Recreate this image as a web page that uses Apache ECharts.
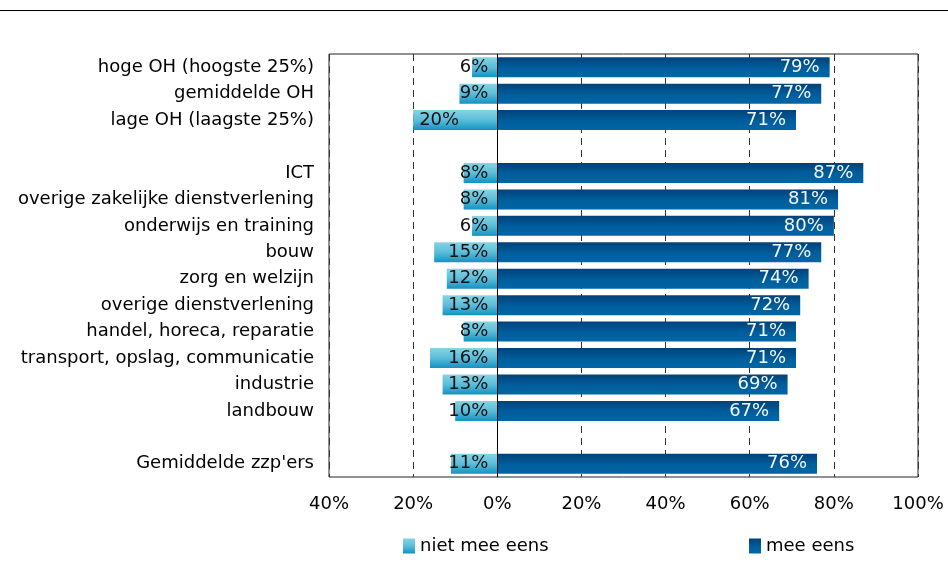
<!DOCTYPE html>
<html>
<head>
<meta charset="utf-8">
<script src="https://cdn.jsdelivr.net/npm/echarts@6/dist/echarts.min.js"></script>
<style>html,body{margin:0;padding:0;background:#fff}#c{width:948px;height:567px}</style>
</head>
<body>
<div id="c"></div>
<script>
const categories = ["hoge OH (hoogste 25%)", "gemiddelde OH", "lage OH (laagste 25%)", " ",
  "ICT", "overige zakelijke dienstverlening", "onderwijs en training", "bouw", "zorg en welzijn",
  "overige dienstverlening", "handel, horeca, reparatie", "transport, opslag, communicatie",
  "industrie", "landbouw", "  ", "Gemiddelde zzp'ers"];
const nietMeeEens = [6, 9, 20, null, 8, 8, 6, 15, 12, 13, 8, 16, 13, 10, null, 11];
const meeEens = [79, 77, 71, null, 87, 81, 80, 77, 74, 72, 71, 71, 69, 67, null, 76];
const xTicks = [-40, -20, 0, 20, 40, 60, 80, 100];

const FONT = 'DejaVu Sans';
const lightGrad = new echarts.graphic.LinearGradient(0, 0, 0, 1, [
  {offset: 0, color: '#86d3e3'}, {offset: 0.5, color: '#5cbdd9'}, {offset: 1, color: '#1292c2'}]);
const darkGrad = new echarts.graphic.LinearGradient(0, 0, 0, 1, [
  {offset: 0, color: '#00427a'}, {offset: 0.55, color: '#005e9c'}, {offset: 1, color: '#0066a6'}]);

const chart = echarts.init(document.getElementById('c'), null, {renderer: 'canvas'});
chart.setOption({
  animation: false,
  backgroundColor: '#fff',
  textStyle: {fontFamily: FONT},
  graphic: [{type: 'line', shape: {x1: 0, y1: 10.5, x2: 948, y2: 10.5}, style: {stroke: '#000', lineWidth: 1}}],
  grid: {left: 329, top: 54, right: 30, bottom: 90, show: true, borderColor: '#222', borderWidth: 1, containLabel: false},
  legend: [
    {data: [{name: 'niet mee eens', icon: 'rect'}], left: 398, top: 532, itemWidth: 12, itemHeight: 15, itemGap: 4,
     textStyle: {fontFamily: FONT, fontSize: 18, color: '#000'}},
    {data: [{name: 'mee eens', icon: 'rect'}], left: 744, top: 532, itemWidth: 12, itemHeight: 15, itemGap: 4,
     textStyle: {fontFamily: FONT, fontSize: 18, color: '#000'}}
  ],
  xAxis: {
    type: 'value', min: xTicks[0], max: xTicks[xTicks.length - 1], interval: 20,
    axisLine: {show: false}, axisTick: {show: false},
    splitLine: {show: true, lineStyle: {color: '#333', type: [7, 5], width: 1}},
    axisLabel: {fontFamily: FONT, fontSize: 18, color: '#000', margin: 18,
      formatter: v => Math.abs(v) + '%'}
  },
  yAxis: {
    type: 'category', data: categories, inverse: true,
    axisLine: {show: false}, axisTick: {show: false},
    axisLabel: {fontFamily: FONT, fontSize: 18, color: '#000', margin: 15}
  },
  series: [
    {
      name: 'niet mee eens', type: 'bar', barWidth: 20, barGap: '-100%',
      data: nietMeeEens.map(v => v == null ? null : -v),
      itemStyle: {color: lightGrad},
      label: {show: true, position: 'insideLeft', distance: 0, fontFamily: FONT, fontSize: 18, color: '#111',
        textBorderWidth: 0, formatter: p => Math.abs(p.value) + '%'},
      labelLayout: function (params) {
        const r = params.rect;
        const lw = params.labelRect.width;
        const right = r.x + r.width;
        let x;
        if (r.width > lw + 30) { x = r.x + 6; } else { x = right - 9 - lw; }
        return {x: x, y: r.y + r.height / 2, align: 'left', verticalAlign: 'middle'};
      }
    },
    {
      name: 'mee eens', type: 'bar', barWidth: 20,
      data: meeEens,
      itemStyle: {color: darkGrad},
      label: {show: true, position: 'insideRight', distance: 10, fontFamily: FONT, fontSize: 18, color: '#f4f8fc',
        textBorderWidth: 0, formatter: p => p.value + '%'},
      markLine: {silent: true, symbol: 'none', label: {show: false},
        lineStyle: {color: '#000', type: 'solid', width: 1},
        data: [{xAxis: 0}]}
    }
  ]
});
</script>
</body>
</html>
